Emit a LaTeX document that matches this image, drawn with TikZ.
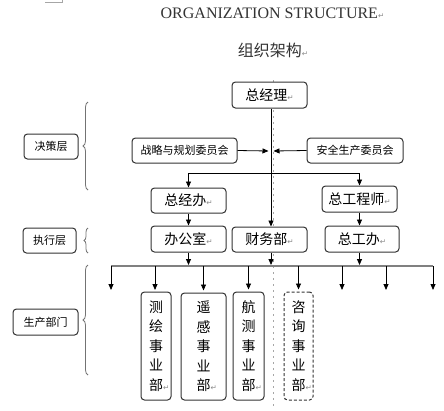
\documentclass[tikz,border=0pt]{standalone}
\usepackage{fontspec}
\usetikzlibrary{arrows.meta,decorations.pathreplacing}
\setmainfont{Liberation Serif}
\newfontfamily\cjk{Noto Sans CJK SC}
\newfontfamily\dejavu{DejaVu Sans}
\newcommand\rmk{{\color{black!45}\fontsize{7.5}{7.5}\selectfont\dejavu ↵}}
\newcommand\rmkl{\rlap{\rmk}}
\begin{document}
\begin{tikzpicture}[x=1pt,y=-1pt,
  box/.style={draw=black!80, fill=white, line width=1pt, rounded corners=3.5pt, inner sep=0pt, align=center, text=black},
  big/.style={font={\cjk\fontsize{14}{16}\selectfont}},
  small/.style={font={\cjk\fontsize{11}{13}\selectfont}},
  vert/.style={font={\cjk\fontsize{14}{19.5}\selectfont}},
  arr/.style={draw=black, line width=0.8pt, -{Triangle[length=6pt,width=5pt]}},
  bus/.style={draw=black!50, line width=2pt},
  brc/.style={draw=black!55, line width=0.8pt, decorate, decoration={brace, amplitude=5pt}},
  guide/.style={draw=black!35, line width=0.7pt, dash pattern=on 1.5pt off 4.5pt}]
\useasboundingbox (0,0) rectangle (444,410);
% page marks
\draw[black!35, line width=0.6pt] (45,2) -- (62,2) -- (62,0);
\coordinate (gtop) at (273,80);
\coordinate (gbot) at (273,410);
\draw[guide] (gtop) -- (gbot);
% titles
\node[font={\fontsize{16}{18}\selectfont}, text=black!80, inner sep=0pt] (title) at (272.5,13) {ORGANIZATION STRUCTURE\rmk};
\node[font={\cjk\fontsize{16}{18}\selectfont}, text=black!80, inner sep=0pt] (sub) at (273,50) {组织架构\rmk};
% boxes
\node[box,big,minimum width=75pt,minimum height=26pt] (zjl) at (269.5,95) {总经理\rmk};
\node[box,small,minimum width=105pt,minimum height=25pt] (zl) at (184.5,150.5) {战略与规划委员会};
\node[box,small,minimum width=96pt,minimum height=25pt] (aq) at (355,150.5) {安全生产委员会};
\node[box,big,minimum width=75pt,minimum height=25pt] (zjb) at (188.5,200.5) {总经办\rmk};
\node[box,big,minimum width=75pt,minimum height=26pt] (zgcs) at (359.5,199) {总工程师\rmk};
\node[box,big,minimum width=75pt,minimum height=26pt] (bgs) at (188.5,239) {办公室\rmk};
\node[box,big,minimum width=75pt,minimum height=25pt] (cwb) at (269.5,239.5) {财务部\rmk};
\node[box,big,minimum width=74pt,minimum height=26pt] (zgb) at (362,239) {总工办\rmk};
\node[box,vert,minimum width=30pt,minimum height=108pt] (chb) at (156,346) {测\\绘\\事\\业\\部\rmkl};
\node[box,vert,minimum width=45pt,minimum height=107pt] (ygb) at (203.5,346.5) {遥\\感\\事\\业\\部\rmkl};
\node[box,vert,minimum width=31pt,minimum height=108pt] (hcb) at (248.5,346) {航\\测\\事\\业\\部\rmkl};
\node[box,vert,dashed,dash pattern=on 3pt off 2pt,minimum width=29pt,minimum height=108pt] (zxb) at (298.5,346) {咨\\询\\事\\业\\部\rmkl};
% left labels
\node[box,small,minimum width=54pt,minimum height=25pt] (jcc) at (51,146.5) {决策层};
\node[box,small,minimum width=53pt,minimum height=25pt] (zxc) at (49.5,240.5) {执行层};
\node[box,small,minimum width=65pt,minimum height=26pt] (scbm) at (45.5,322) {生产部门};
% braces
\coordinate (b1a) at (88,190); \coordinate (b1b) at (88,102);
\coordinate (b2a) at (88,253); \coordinate (b2b) at (88,228);
\coordinate (b3a) at (88,375); \coordinate (b3b) at (88,265);
\draw[brc] (b1a) -- (b1b);
\draw[brc, decoration={brace, amplitude=4pt}] (b2a) -- (b2b);
\draw[brc] (b3a) -- (b3b);
% spine
\coordinate (sp) at (271,0);
\draw[arr] (zjl.south -| sp) -- (cwb.north -| sp);
\coordinate (spL) at (268.5,151);
\coordinate (spR) at (273.5,151);
\draw[arr] (zl.east) -- (spL);
\draw[arr] (aq.west) -- (spR);
\coordinate (hs) at (271,173);
\draw[arr] (hs) -| (zjb.north);
\draw[arr] (hs) -| (zgcs.north);
\draw[arr] (zjb.south) -- (bgs.north);
\draw[arr] (zgcs.south) -- (zgcs.south |- zgb.north);
% bus
\coordinate (busL) at (111,266);
\coordinate (busR) at (433,266);
\draw[bus] (busL) -- (busR);
\draw[arr, shorten >=1pt] (bgs.south) -- (bgs.south |- busL);
\draw[arr, shorten >=1pt] (cwb.south -| sp) -- (sp |- busL);
\draw[arr, shorten >=1pt] (zgb.south -| zgcs.south) -- (zgcs.south |- busL);
% down arrows
\coordinate (d1) at (111,290);
\coordinate (d2) at (155,290);
\coordinate (d6) at (342,290);
\coordinate (d7) at (386,290);
\coordinate (d8) at (433,290);
\draw[arr] (d1 |- busL) -- (d1);
\draw[arr] (d2 |- busL) -- (d2);
\draw[arr, shorten >=2pt] (ygb.north |- busL) -- (ygb.north);
\draw[arr, shorten >=2pt] (hcb.north |- busL) -- (hcb.north);
\draw[arr, shorten >=2pt] (zxb.north |- busL) -- (zxb.north);
\draw[arr] (d6 |- busL) -- (d6);
\draw[arr] (d7 |- busL) -- (d7);
\draw[arr] (d8 |- busL) -- (d8);
\end{tikzpicture}
\end{document}
